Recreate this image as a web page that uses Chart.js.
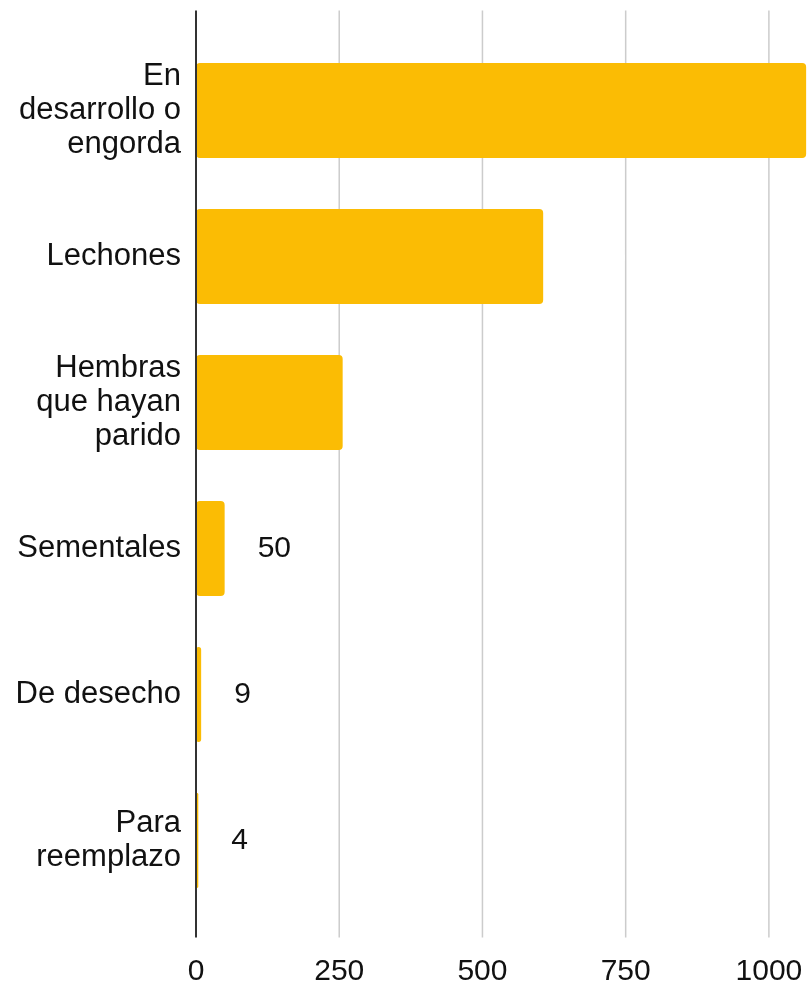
<!DOCTYPE html>
<html>
<head>
<meta charset="utf-8">
<script src="https://cdn.jsdelivr.net/npm/chart.js@4.4.1/dist/chart.umd.min.js"></script>
<style>
  body { margin: 0; background: #fff; }
  #wrap { width: 810px; height: 985px; position: relative; }
</style>
</head>
<body>
<div id="wrap"><canvas id="myChart"></canvas></div>
<script>
// data
const categories = [
  ["En", "desarrollo o", "engorda"],
  "Lechones",
  ["Hembras", "que hayan", "parido"],
  "Sementales",
  "De desecho",
  ["Para", "reemplazo"]
];
const counts = [1065, 606, 256, 50, 9, 4];
const xTicks = [0, 250, 500, 750, 1000];

const barColor = '#fbbc04';
const fontFam = '"Liberation Sans", Arial, sans-serif';
const textColor = '#111111';

// axis line + grid run a little past the plot area, like the original
const extendLines = {
  id: 'extendLines',
  beforeDatasetsDraw(chart) {
    const { ctx, chartArea, scales } = chart;
    const top = chartArea.top - 27, bottom = chartArea.bottom + 24;
    ctx.save();
    ctx.strokeStyle = '#cccccc';
    ctx.lineWidth = 1.5;
    xTicks.forEach(v => {
      if (v === 0) return;
      const x = scales.x.getPixelForValue(v);
      ctx.beginPath();
      ctx.moveTo(x, top);
      ctx.lineTo(x, bottom);
      ctx.stroke();
    });
    ctx.restore();
  },
  afterDatasetsDraw(chart) {
    const { ctx, chartArea, scales } = chart;
    const x = scales.x.getPixelForValue(0);
    ctx.save();
    ctx.strokeStyle = '#333333';
    ctx.lineWidth = 2;
    ctx.beginPath();
    ctx.moveTo(x, chartArea.top - 27);
    ctx.lineTo(x, chartArea.bottom + 24);
    ctx.stroke();
    ctx.restore();
  }
};

// value labels: black outside small bars, white (invisible) for the big ones
const valueLabels = {
  id: 'valueLabels',
  afterDatasetsDraw(chart) {
    const { ctx } = chart;
    const meta = chart.getDatasetMeta(0);
    ctx.save();
    ctx.font = '30px ' + fontFam;
    ctx.textAlign = 'left';
    ctx.textBaseline = 'middle';
    meta.data.forEach((bar, i) => {
      ctx.fillStyle = counts[i] < 100 ? textColor : '#ffffff';
      ctx.fillText(String(counts[i]), bar.x + 33, bar.y);
    });
    ctx.restore();
  }
};

const ctx = document.querySelector('#myChart').getContext('2d');
new Chart(ctx, {
  type: 'bar',
  data: {
    labels: categories,
    datasets: [{
      data: counts,
      backgroundColor: barColor,
      borderRadius: 4,
      borderSkipped: false,
      categoryPercentage: 1,
      barPercentage: 0.65
    }]
  },
  options: {
    indexAxis: 'y',
    responsive: true,
    maintainAspectRatio: false,
    animation: false,
    layout: { padding: { top: 37.5, right: 1, left: 0, bottom: 0 } },
    plugins: {
      legend: { display: false },
      tooltip: { enabled: false }
    },
    scales: {
      x: {
        min: 0,
        max: 1070,
        afterFit(scale) {
          scale.height = 71.5;
          scale.paddingLeft = 0;
          scale.paddingRight = 0;
        },
        afterBuildTicks(scale) { scale.ticks = xTicks.map(v => ({ value: v })); },
        grid: { display: false },
        border: { display: false },
        ticks: {
          color: textColor,
          padding: 32,
          font: { family: fontFam, size: 30 },
          callback: v => String(v)
        }
      },
      y: {
        afterFit(scale) {
          scale.width = 196;
          scale.paddingTop = 0;
          scale.paddingBottom = 0;
        },
        grid: { display: false, drawTicks: false },
        border: { display: false },
        ticks: {
          color: textColor,
          padding: 15,
          font: { family: fontFam, size: 31, lineHeight: 1.1 }
        }
      }
    }
  },
  plugins: [extendLines, valueLabels]
});
</script>
</body>
</html>
